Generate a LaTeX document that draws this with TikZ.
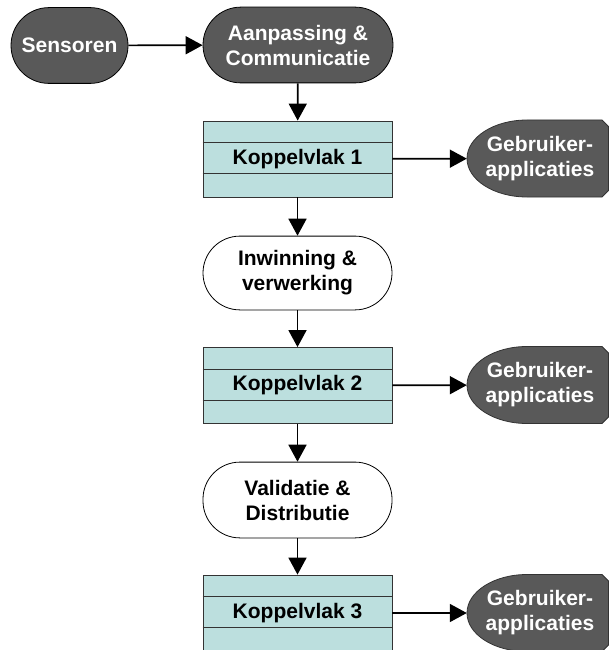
\documentclass[tikz,border=0pt]{standalone}
\usepackage{fontspec}
\setmainfont{Liberation Sans}
\usetikzlibrary{arrows.meta}
\definecolor{darkfill}{HTML}{595959}
\definecolor{tealfill}{HTML}{BCDFDE}
\tikzset{
  txt/.style={font=\fontsize{21}{25}\selectfont\bfseries, align=center, inner sep=0pt},
  darkpill/.style={txt, draw=black, line width=0.8pt, fill=darkfill, text=white, rounded corners=37.9pt},
  whitepill/.style={txt, draw=black, line width=0.8pt, fill=white, text=black, rounded corners=36.9pt},
  kvbox/.style={txt, draw=black!80, line width=0.8pt, fill=tealfill, text=black, minimum width=189pt, minimum height=76pt},
  gebshape/.style={draw=black!80, line width=0.8pt, fill=darkfill},
  gebtext/.style={txt, text=white, minimum width=146pt, minimum height=77pt},
  arr/.style={line width=1.7pt, -{Triangle[length=17pt,width=18pt]}},
  kvline/.style={draw=black!80, line width=0.8pt}
}
\begin{document}
\begin{tikzpicture}[x=1pt,y=-1pt]
\useasboundingbox (0,0) rectangle (608,650);
% Gebruiker-applicaties shapes
\foreach \c in {158.5,385,613}{
  \draw[gebshape] (608.5,\c-32) -- (602,\c-38.5) -- (527,\c-38.5)
    arc[start angle=90, end angle=270, x radius=60pt, y radius=38.5pt]
    -- (602,\c+38.5) -- (608.5,\c+32) -- cycle;
}
\node[darkpill, minimum width=117pt, minimum height=75.8pt] (sens) at (69.5,45.5) {Sensoren};
\node[darkpill, minimum width=190pt, minimum height=75.8pt] (aanp) at (298,45) {Aanpassing \&\\Communicatie};
\node[kvbox] (k1) at (297.5,159) {Koppelvlak 1};
\node[whitepill, minimum width=189pt, minimum height=73.8pt] (inw) at (297.5,273) {Inwinning \&\\verwerking};
\node[kvbox] (k2) at (297.5,385.5) {Koppelvlak 2};
\node[whitepill, minimum width=189pt, minimum height=75.8pt] (val) at (297.5,500) {Validatie \&\\Distributie};
\node[kvbox] (k3) at (297.5,613) {Koppelvlak 3};
\foreach \k in {k1,k2,k3}{
  \draw[kvline] ([yshift=-22pt]\k.north west) -- ([yshift=-22pt]\k.north east);
  \draw[kvline] ([yshift=-53pt]\k.north west) -- ([yshift=-53pt]\k.north east);
}
\node[gebtext] (g1) at (540,158.5) {Gebruiker-\\applicaties};
\node[gebtext] (g2) at (540,385) {Gebruiker-\\applicaties};
\node[gebtext] (g3) at (540,613) {Gebruiker-\\applicaties};
% connectors
\draw[arr] (sens) -- (aanp);
\draw[arr] (aanp) -- (k1);
\draw[arr] (k1) -- (inw);
\draw[arr] (inw) -- (k2);
\draw[arr] (k2) -- (val);
\draw[arr] (val) -- (k3);
\draw[arr] (k1) -- (g1);
\draw[arr] (k2) -- (g2);
\draw[arr] (k3) -- (g3);
\end{tikzpicture}
\end{document}
